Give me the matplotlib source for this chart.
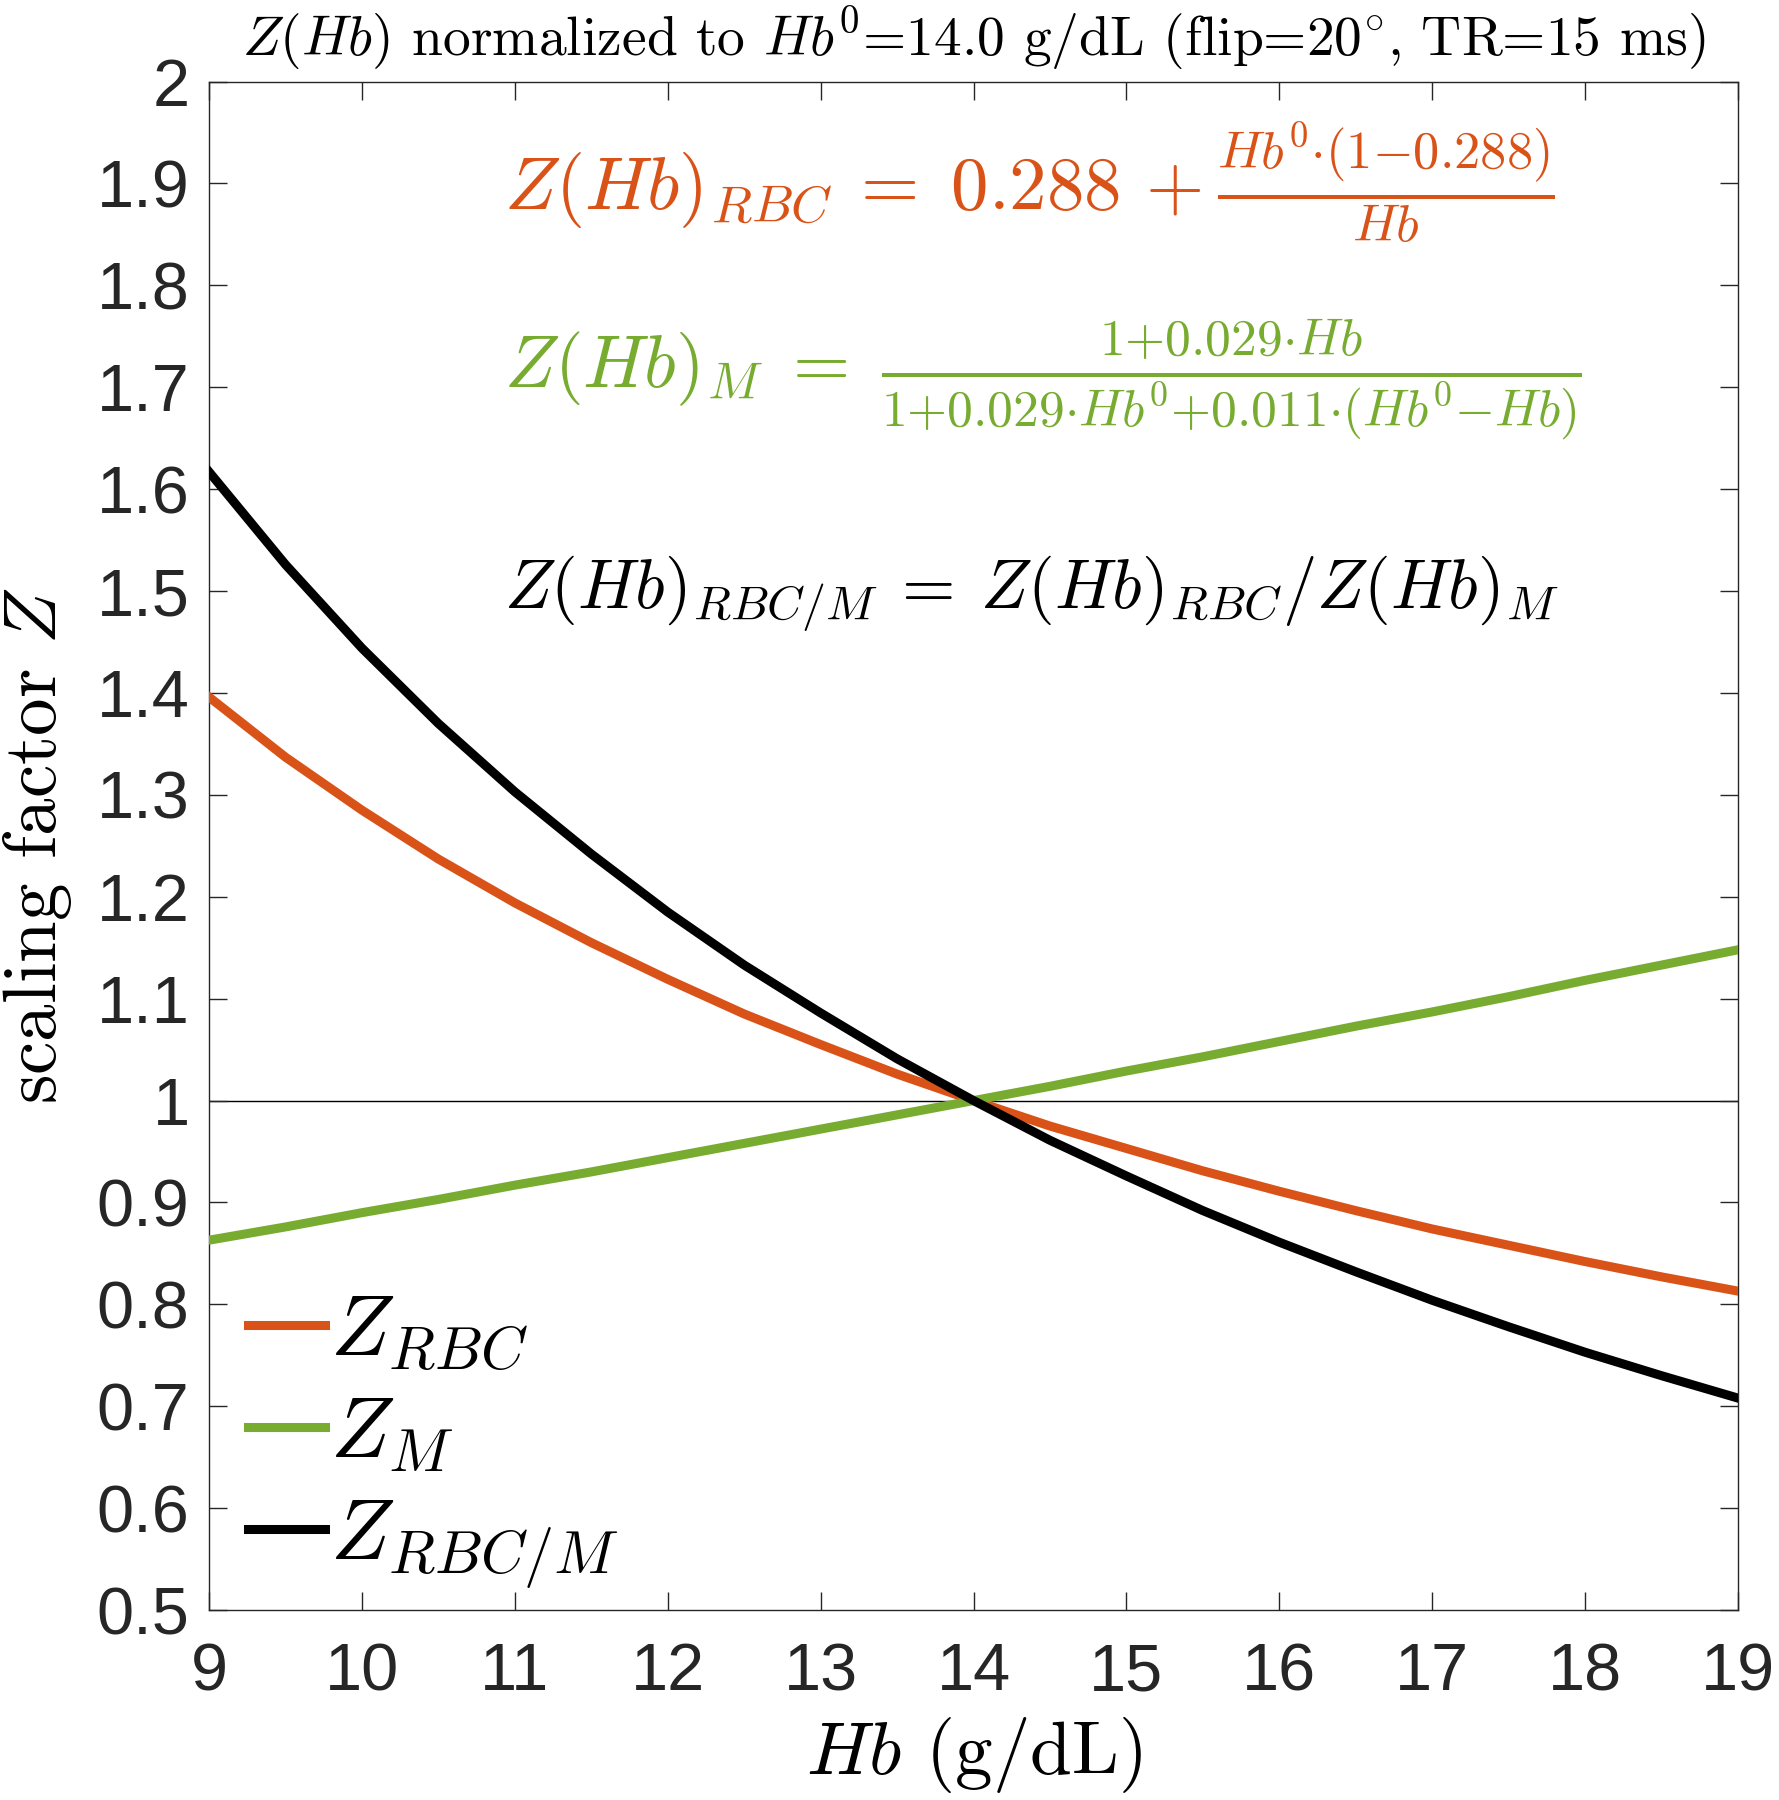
import matplotlib
matplotlib.use("Agg")
import matplotlib.pyplot as plt

# Values (Hb in g/dL, every 0.5)
hb = [9.0, 9.5, 10.0, 10.5, 11.0, 11.5, 12.0, 12.5, 13.0, 13.5, 14.0,
      14.5, 15.0, 15.5, 16.0, 16.5, 17.0, 17.5, 18.0, 18.5, 19.0]
z_rbc = [1.396, 1.337, 1.285, 1.237, 1.194, 1.155, 1.119, 1.085, 1.055, 1.026, 1.000,
         0.975, 0.953, 0.931, 0.911, 0.892, 0.874, 0.858, 0.842, 0.827, 0.813]
z_m = [0.863, 0.876, 0.890, 0.903, 0.917, 0.930, 0.944, 0.958, 0.972, 0.986, 1.000,
       1.014, 1.029, 1.043, 1.058, 1.073, 1.087, 1.102, 1.118, 1.133, 1.148]
z_ratio = [1.617, 1.526, 1.444, 1.370, 1.303, 1.242, 1.185, 1.133, 1.086, 1.041, 1.000,
           0.961, 0.926, 0.892, 0.861, 0.832, 0.804, 0.778, 0.753, 0.730, 0.708]

x_ticks = list(range(9, 20))
y_ticks = [0.5, 0.6, 0.7, 0.8, 0.9, 1.0, 1.1, 1.2, 1.3, 1.4, 1.5, 1.6, 1.7, 1.8, 1.9, 2.0]
y_ticklabels = ["0.5", "0.6", "0.7", "0.8", "0.9", "1", "1.1", "1.2", "1.3", "1.4",
                "1.5", "1.6", "1.7", "1.8", "1.9", "2"]

ORANGE = "#D95319"
GREEN = "#77AC30"
AXCOL = "#262626"

plt.rcParams["mathtext.fontset"] = "cm"

fig = plt.figure(figsize=(17.79, 18), dpi=100)
ax = fig.add_axes([0.1175, 0.1055, 0.8595, 0.8492])

ax.axhline(1.0, color="black", lw=1.0, zorder=1)
ax.plot(hb, z_rbc, color=ORANGE, lw=6.5, label=r"$Z_{RBC}$", zorder=3)
ax.plot(hb, z_m, color=GREEN, lw=6.5, label=r"$Z_M$", zorder=3)
ax.plot(hb, z_ratio, color="black", lw=6.5, label=r"$Z_{RBC/M}$", zorder=4)

ax.set_xlim(9, 19)
ax.set_ylim(0.5, 2.0)
ax.set_xticks(x_ticks)
ax.set_xticklabels([str(t) for t in x_ticks])
ax.set_yticks(y_ticks)
ax.set_yticklabels(y_ticklabels)

for lab in ax.get_xticklabels() + ax.get_yticklabels():
    lab.set_family("Liberation Sans")
    lab.set_fontsize(48)
    lab.set_color(AXCOL)

ax.tick_params(axis="both", direction="in", length=13, width=1.0, color=AXCOL,
               top=True, right=True)
ax.tick_params(axis="x", pad=23)
ax.tick_params(axis="y", pad=14)
for s in ax.spines.values():
    s.set_color(AXCOL)
    s.set_linewidth(1.0)

ax.set_title(r"$Z(Hb)$ normalized to $Hb^0$=14.0 g/dL (flip=$20^{\circ}$, TR=15 ms)",
             family="cmr10", fontsize=40, pad=19)
ax.set_xlabel(r"$Hb$ (g/dL)", family="cmr10", fontsize=54, labelpad=8)
ax.set_ylabel(r"scaling factor $Z$", family="cmr10", fontsize=54, labelpad=16)

# formulas drawn without operator spacing inside the fractions, like the original
ax.text(10.93, 1.9,
        r"$Z(Hb)_{RBC}\:=\;0.288\,+\frac{Hb^0{\cdot}(1{-}0.288)}{Hb}$",
        color=ORANGE, fontsize=54, va="center", ha="left")
ax.text(10.93, 1.707,
        r"$Z(Hb)_M\;=\;\frac{1{+}0.029{\cdot}Hb}{1{+}0.029{\cdot}Hb^0{+}0.011{\cdot}(Hb^0{-}Hb)}$",
        color=GREEN, fontsize=53, va="center", ha="left")
ax.text(10.93, 1.497,
        r"$Z(Hb)_{RBC/M}\:=\:Z(Hb)_{RBC}/Z(Hb)_M$",
        color="black", fontsize=49.5, va="center", ha="left")

leg = ax.legend(loc="lower left", bbox_to_anchor=(0.0, -0.0128), frameon=False,
                fontsize=62, handlelength=0.9, handletextpad=0.05,
                labelspacing=0.22, borderaxespad=0.05, borderpad=0.4)

fig.savefig("out.png", dpi=100, facecolor="white")
